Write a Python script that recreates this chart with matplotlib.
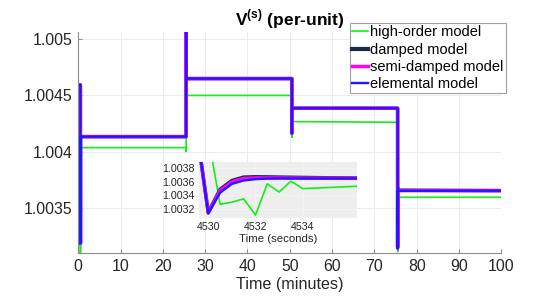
import numpy as np
import matplotlib
matplotlib.use("Agg")
import matplotlib.pyplot as plt
from matplotlib.ticker import FormatStrFormatter

plt.rcParams['font.family'] = ['Liberation Sans', 'DejaVu Sans']
plt.rcParams['mathtext.fontset'] = 'custom'
plt.rcParams['mathtext.rm'] = 'Liberation Sans'
plt.rcParams['mathtext.bf'] = 'Liberation Sans:bold'

# time in seconds, voltage in per-unit
t_high = [0, 30, 30.5, 31, 31.5, 1530, 1530.5, 1531, 1531.5, 3030, 3030.5, 3031,
          4530, 4530.5, 4531, 4531.5, 4532, 4532.5, 4533, 4533.5, 4534, 4536.5, 4560, 6000]
v_high = [1.0046, 1.0046, 1.0030, 1.00395, 1.004035, 1.004035, 1.00400, 1.00490, 1.0045,
          1.0045, 1.004127, 1.004267, 1.004261, 1.00327, 1.0033, 1.00335, 1.00311, 1.00357,
          1.00345, 1.00361, 1.0035, 1.003538, 1.003593, 1.003593]

t_fast = [0, 29.5, 30, 30.5, 31, 1529.5, 1530, 1530.5, 1531, 3029.5, 3030, 3030.5, 3031,
          4529.5, 4530, 4530.5, 4531, 4531.5, 4532, 4532.5, 4533, 4534, 4535, 4536.5, 6000]
v_common = [1.004594, 1.004594, 1.003183, 1.00405, 1.004133, 1.004133, 1.00507, 1.00468,
            1.00465, 1.00465, 1.004163, 1.00437, 1.004386]
v_damped = v_common + [1.004386, 1.00315, 1.00349, 1.00362, 1.00367, 1.003675, 1.003673,
                       1.00367, 1.003665, 1.00366, 1.003656, 1.003652]
v_semi = v_common + [1.004386, 1.00314, 1.00347, 1.00360, 1.00365, 1.003658, 1.003658,
                     1.003657, 1.003655, 1.003654, 1.003653, 1.003652]
v_elem = v_common + [1.004386, 1.003136, 1.00344, 1.00357, 1.00362, 1.00364, 1.003648,
                     1.00365, 1.00365, 1.00365, 1.00365, 1.003652]

labels = ["high-order model", "damped model", "semi-damped model", "elemental model"]
colors = ["#14ee14", "#1c2a4d", "#ff00ff", "#1a1aff"]
widths = [1.2, 2.5, 2.5, 1.7]

series = [(t_high, v_high), (t_fast, v_damped), (t_fast, v_semi), (t_fast, v_elem)]

fig = plt.figure(figsize=(5.56, 3.01), dpi=100)
ax = fig.add_axes([0.1408, 0.1585, 0.7608, 0.7352])

for (t, v), lab, c, w in zip(series, labels, colors, widths):
    ax.plot(np.array(t) / 60.0, v, color=c, lw=w, label=lab)

ax.set_xlim(0, 100)
ax.set_ylim(1.003094, 1.005065)
ax.set_xticks(np.arange(0, 101, 10))
ax.set_yticks([1.0035, 1.004, 1.0045, 1.005])
ax.yaxis.set_major_formatter(FormatStrFormatter('%g'))
ax.grid(True, color='#ebebeb', lw=0.7)
ax.set_axisbelow(True)
for s in ['top', 'right']:
    ax.spines[s].set_visible(False)
for s in ['left', 'bottom']:
    ax.spines[s].set_color('#8c8c8c')
    ax.spines[s].set_linewidth(0.8)
ax.tick_params(direction='in', length=3, color='#8c8c8c', labelsize=11.4,
               labelcolor='#262626', pad=4)
ax.set_xlabel("Time (minutes)", fontsize=11.6, color='#262626', labelpad=2)
ax.set_title(r"V$^{\mathbf{(s)}}$ (per-unit)", fontsize=12.5, fontweight='bold', pad=5)

leg = fig.legend(loc='upper right', bbox_to_anchor=(0.9095, 0.9226), borderaxespad=0,
                 fontsize=10.5, frameon=True, fancybox=False, edgecolor='#a0a0a0',
                 framealpha=1, handlelength=1.1, handletextpad=0.15, borderpad=0.15,
                 labelspacing=0.22)
leg.get_frame().set_linewidth(0.8)
leg.get_lines()[1].set_linewidth(3.0)

# zoom on the last step
axin = fig.add_axes([0.358, 0.2748, 0.2833, 0.186])
axin.set_facecolor('#eeeeee')
for (t, v), c, w in zip(series, colors, widths):
    axin.plot(t, v, color=c, lw=w)
axin.set_xlim(4529.61, 4536.28)
axin.set_ylim(1.003063, 1.003888)
axin.set_xticks([4530, 4532, 4534])
axin.set_yticks([1.0032, 1.0034, 1.0036, 1.0038])
axin.yaxis.set_major_formatter(FormatStrFormatter('%.4f'))
axin.xaxis.set_major_formatter(FormatStrFormatter('%d'))
for s in axin.spines.values():
    s.set_visible(False)
axin.grid(True, color='#f6f6f6', lw=0.5)
axin.tick_params(length=0, labelsize=7.7, labelcolor='#262626', pad=3)
axin.set_xlabel("Time (seconds)", fontsize=8.2, color='#262626', labelpad=1)

fig.savefig("out.png", dpi=100)
